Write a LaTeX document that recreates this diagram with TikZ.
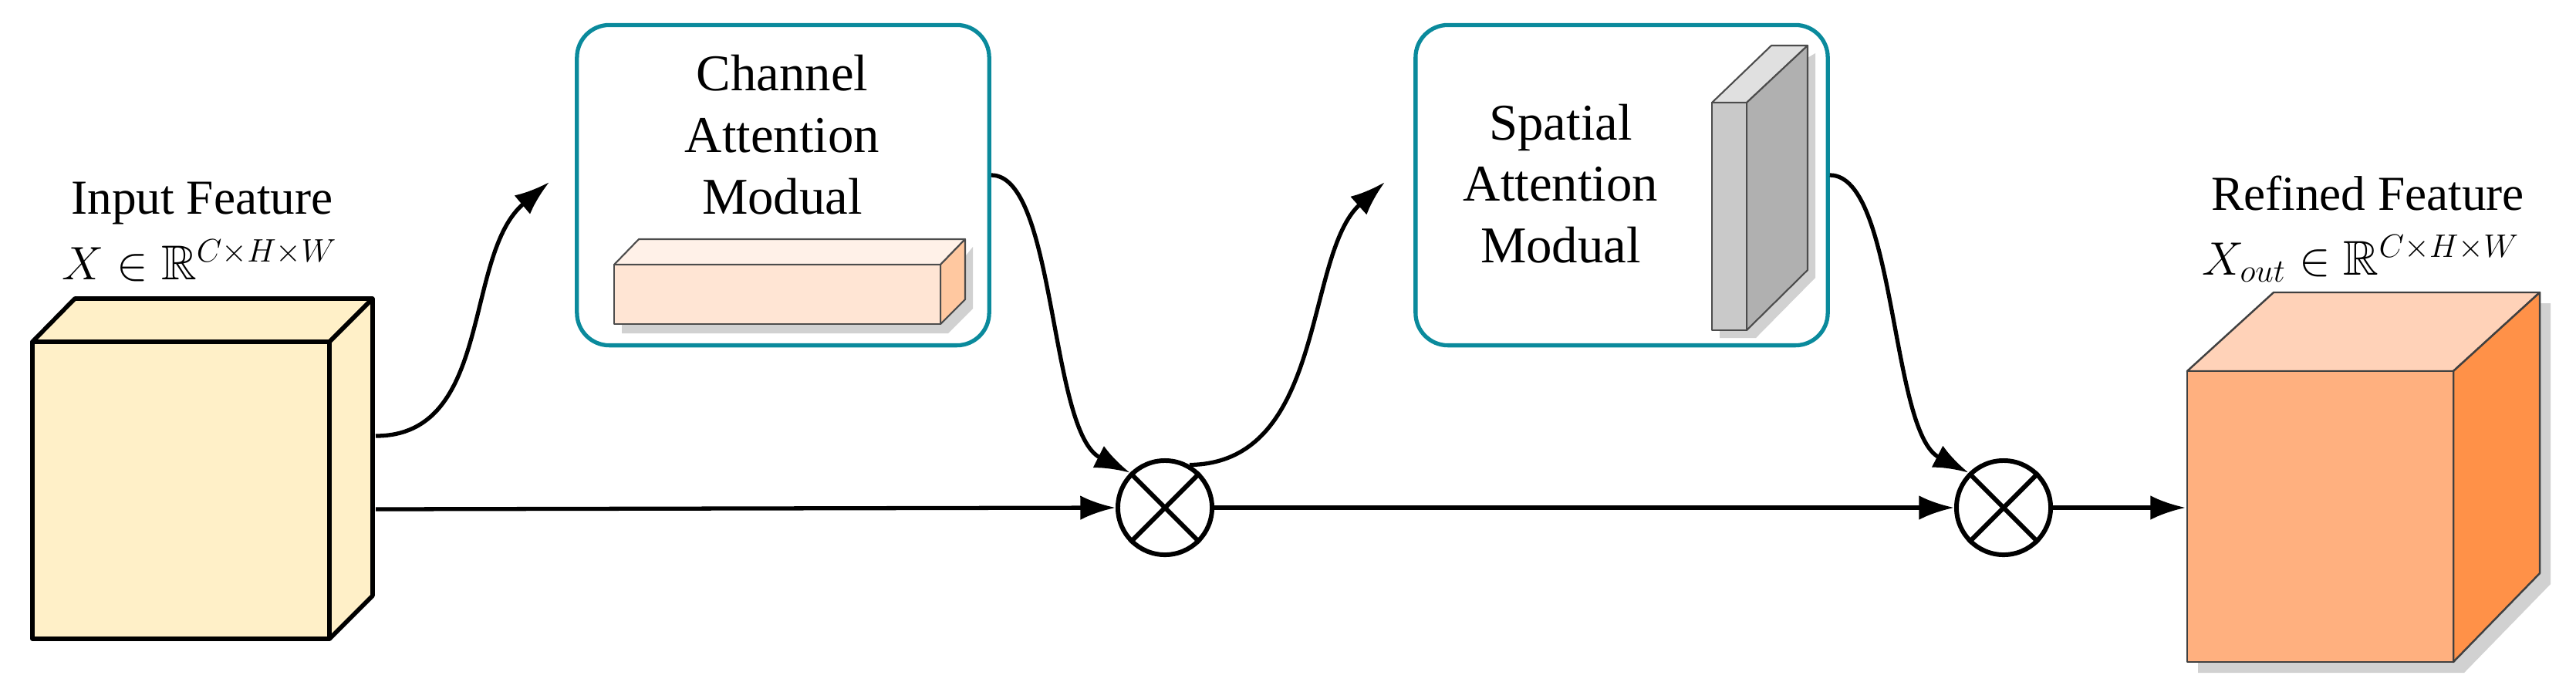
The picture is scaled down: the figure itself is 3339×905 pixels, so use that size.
\documentclass[tikz,border=0pt]{standalone}
\usepackage{fontspec}
\usepackage{amssymb}
\setmainfont{Liberation Serif}
\usetikzlibrary{arrows.meta,shadows}
\definecolor{teal1}{HTML}{0A8A9C}
\definecolor{inF}{HTML}{FFF0C8}
\definecolor{outF}{HTML}{FFB07F}
\definecolor{outT}{HTML}{FFD2B8}
\definecolor{outS}{HTML}{FF9148}
\definecolor{barF}{HTML}{FFE5D4}
\definecolor{barT}{HTML}{FFF1E8}
\definecolor{barS}{HTML}{FFC8A0}
\begin{document}
\begin{tikzpicture}[x=0.01cm,y=-0.01cm,
  conn/.style={line width=1.5pt,-{Latex[length=13pt,width=9pt]}},
  modbox/.style={draw=teal1,line width=1.5pt,rounded corners=0.42cm,minimum width=5.34cm,minimum height=4.15cm,inner sep=0pt},
  mul/.style={circle,draw,line width=1.7pt,minimum size=1.22cm,inner sep=0pt},
  lbl/.style={font=\fontsize{18}{22}\selectfont,anchor=base},
  mtxt/.style={font=\fontsize{19}{23}\selectfont,anchor=base},
  shd/.style={fill=black,opacity=0.18}]
\useasboundingbox (0,0) rectangle (3339,905);
% input cube
\begin{scope}[line width=1.6pt,line join=round,fill=inF]
\filldraw (42,443) -- (97,387) -- (483,387) -- (427,443) -- cycle;
\filldraw (427,443) -- (483,387) -- (483,772) -- (427,828) -- cycle;
\filldraw (42,443) rectangle (427,828);
\end{scope}
\node[lbl] (tin) at (262,277) {Input Feature};
\node[lbl] (min) at (259,362) {$X \in \mathbb{R}^{C\times H\times W}$};
\coordinate (inA) at (487,565);
\coordinate (inB) at (487,660);
% modules
\node[modbox] (cam) at (1015,240) {};
\node[mtxt] at (1014,117) {Channel};
\node[mtxt] at (1014,197) {Attention};
\node[mtxt] at (1014,277) {Modual};
\fill[shd] (806,352) -- (1235,352) -- (1261,320) -- (1261,400) -- (1229,432) -- (806,432) -- cycle;
\begin{scope}[draw=black!70,line width=0.6pt,line join=round]
\filldraw[fill=barT] (796,343) -- (828,310) -- (1251,310) -- (1219,343) -- cycle;
\filldraw[fill=barS] (1219,343) -- (1251,310) -- (1251,388) -- (1219,420) -- cycle;
\filldraw[fill=barF] (796,343) rectangle (1219,420);
\end{scope}
\node[modbox] (sam) at (2102,240) {};
\node[mtxt] at (2023,181) {Spatial};
\node[mtxt] at (2023,260) {Attention};
\node[mtxt] at (2023,340) {Modual};
\fill[shd] (2229,142) -- (2353,69) -- (2353,360) -- (2276,438) -- (2229,438) -- cycle;
\begin{scope}[draw=black!70,line width=0.6pt,line join=round]
\filldraw[fill=black!12] (2219,133) -- (2296,59) -- (2343,59) -- (2264,133) -- cycle;
\filldraw[fill=black!31] (2264,133) -- (2343,59) -- (2343,350) -- (2264,428) -- cycle;
\filldraw[fill=black!21] (2219,133) rectangle (2264,428);
\end{scope}
% multipliers
\node[mul] (m1) at (1510,658) {};
\draw[line width=1.7pt] (m1.45) -- (m1.225) (m1.135) -- (m1.315);
\node[mul] (m2) at (2597,658) {};
\draw[line width=1.7pt] (m2.45) -- (m2.225) (m2.135) -- (m2.315);
% refined cube
\fill[shd] (2849,495) -- (2960,393) -- (3306,393) -- (3306,757) -- (3194,872) -- (2849,872) -- cycle;
\begin{scope}[draw=black!75,line width=0.7pt,line join=round]
\filldraw[fill=outT] (2835,481) -- (2947,379) -- (3292,379) -- (3180,481) -- cycle;
\filldraw[fill=outS] (3180,481) -- (3292,379) -- (3292,743) -- (3180,858) -- cycle;
\filldraw[fill=outF] (2835,481) rectangle (3180,858);
\end{scope}
\node[lbl] (tout) at (3069,272) {Refined Feature};
\node[lbl] (mout) at (3060,356) {$X_{out} \in \mathbb{R}^{C\times H\times W}$};
% connectors
\coordinate (a1) at (712,236);
\coordinate (a2) at (1795,236);
\draw[conn] (inA) .. controls (640,565) and (600,330) .. (a1);
\draw[conn] (inB) -- (m1.west);
\draw[conn] (cam.east |- 0,227) .. controls (1369,227) and (1360,560) .. (m1.135);
\draw[conn] (m1.60) .. controls (1720,600) and (1690,330) .. (a2);
\draw[conn] (m1.east) -- (m2.west);
\draw[conn] (sam.east |- 0,227) .. controls (2458,227) and (2450,560) .. (m2.135);
\draw[conn] (m2.east) -- (2833,658);
\end{tikzpicture}
\end{document}
